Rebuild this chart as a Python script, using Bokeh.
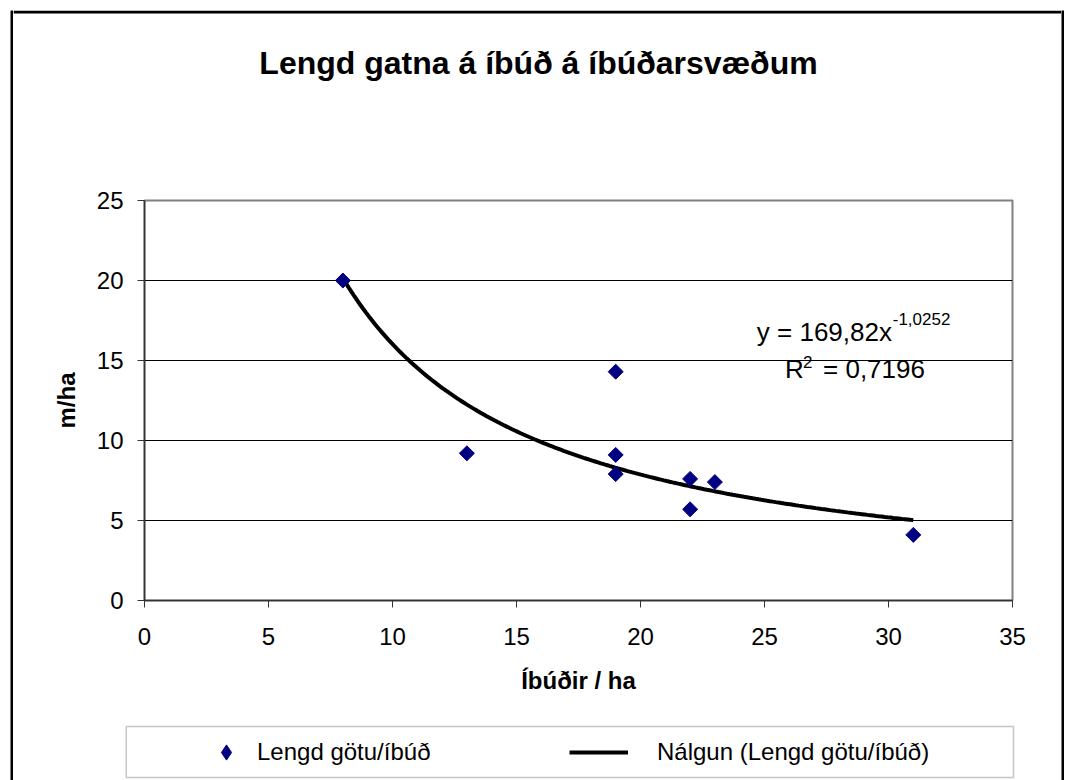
import numpy as np
from bokeh.plotting import figure
from bokeh.layouts import row, column
from bokeh.models import (Range1d, FixedTicker, Label, BoxAnnotation, Legend,
                          LegendItem, ColumnDataSource)
from bokeh.embed import file_html
from bokeh.resources import INLINE

# ---------------- data ----------------
title_text = "Lengd gatna á íbúð á íbúðarsvæðum"
x_label = "Íbúðir / ha"
y_label = "m/ha"
series_label = "Lengd götu/íbúð"
trend_label = "Nálgun (Lengd götu/íbúð)"

dwellings_per_ha = [8, 13, 19, 19, 19, 22, 22, 23, 31]
street_m_per_ha = [20.0, 9.2, 14.3, 9.1, 7.9, 7.6, 5.7, 7.4, 4.1]

# power trendline as printed on the chart: y = a * x^b
trend_a = 169.82
trend_b = -1.0252
trend_r2 = 0.7196

x_ticks = [0, 5, 10, 15, 20, 25, 30, 35]
y_ticks = [0, 5, 10, 15, 20, 25]

FONT = "Liberation Sans"
NAVY = "#000080"


def comma(v, nd):
    return f"{v:.{nd}f}".replace(".", ",")


def blank_fig(w, h, fill="white"):
    f = figure(width=w, height=h, output_backend="svg", toolbar_location=None,
               min_border=0, x_axis_location=None, y_axis_location=None,
               x_range=Range1d(0, 1), y_range=Range1d(0, 1),
               background_fill_color=fill, border_fill_color=fill,
               outline_line_color=None, frame_align=False)
    f.grid.visible = False
    return f


W = 1048

# power trendline points
tx = np.linspace(min(dwellings_per_ha), max(dwellings_per_ha), 200)
ty = trend_a * tx ** trend_b

# ---------------- title strip (with top edge of outer frame) ----------------
title_fig = blank_fig(W, 110)
title_fig.add_layout(BoxAnnotation(left=0, right=W, top=110, bottom=107,
                                   left_units="screen", right_units="screen",
                                   top_units="screen", bottom_units="screen",
                                   fill_color="black", fill_alpha=1, line_color=None))
title_fig.add_layout(Label(x=525, y=58, x_units="screen", y_units="screen",
                           text=title_text, text_align="center", text_baseline="middle",
                           text_font=FONT, text_font_size="32px", text_font_style="bold",
                           text_color="black"))

# ---------------- main chart ----------------
p = figure(width=W, height=590,
           x_range=Range1d(0, 35), y_range=Range1d(0, 25),
           output_backend="svg", toolbar_location=None,
           min_border_left=131, min_border_right=49,
           min_border_top=80, min_border_bottom=110,
           background_fill_color="white", border_fill_color="white",
           outline_line_color="#808080", outline_line_width=2, frame_align=False)

p.xgrid.visible = False
p.ygrid.ticker = FixedTicker(ticks=[5, 10, 15, 20])
p.ygrid.grid_line_color = "black"
p.ygrid.grid_line_width = 1

p.xaxis.ticker = FixedTicker(ticks=x_ticks)
p.yaxis.ticker = FixedTicker(ticks=y_ticks)
p.xaxis.axis_label = x_label
p.yaxis.axis_label = y_label
for ax in (p.xaxis[0], p.yaxis[0]):
    ax.major_tick_in = 0
    ax.major_tick_out = 7
    ax.minor_tick_line_color = None
    ax.axis_line_color = "#333333"
    ax.axis_line_width = 1.5
    ax.major_tick_line_color = "#333333"
    ax.major_label_text_font = FONT
    ax.major_label_text_font_size = "24px"
    ax.major_label_text_color = "black"
    ax.axis_label_text_font = FONT
    ax.axis_label_text_font_size = "24px"
    ax.axis_label_text_font_style = "bold"
    ax.axis_label_text_color = "black"
p.xaxis.major_label_standoff = 20
p.yaxis.major_label_standoff = 14
p.xaxis.axis_label_standoff = 19
p.yaxis.axis_label_standoff = 14

# trendline
p.line(tx, ty, line_color="black", line_width=4)

# points (diamonds = squares rotated 45 degrees)
src = ColumnDataSource(dict(x=dwellings_per_ha, y=street_m_per_ha))
p.scatter("x", "y", source=src, marker="square", size=10.6, angle=np.pi / 4,
          fill_color=NAVY, line_color=NAVY)

# equation and R^2
EQ = "26px"
SUP = "17px"
for (lx, ly, txt, fs) in [
        (24.69, 16.77, f"y = {comma(trend_a, 2)}x", EQ),
        (30.17, 17.6, comma(trend_b, 4), SUP),
        (25.83, 14.48, "R", EQ),
        (26.55, 14.9, "2", SUP),
        (27.36, 14.48, f"= {comma(trend_r2, 4)}", EQ)]:
    p.add_layout(Label(x=lx, y=ly, text=txt, text_font=FONT, text_font_size=fs,
                       text_color="black", text_baseline="alphabetic"))

# ---------------- legend strip ----------------
leg_fig = blank_fig(W, 70)
leg_fig.add_layout(BoxAnnotation(left=112.7, right=1000, top=54, bottom=3,
                                 left_units="screen", right_units="screen",
                                 top_units="screen", bottom_units="screen",
                                 fill_color=None, line_color="#404040", line_width=1.5))
# swatch renderers (their data fall outside this strip's 0..1 ranges, so only the legend shows them)
sw_pts = leg_fig.scatter(x=dwellings_per_ha, y=street_m_per_ha, marker="diamond",
                         fill_color=NAVY, line_color=NAVY)
sw_line = leg_fig.line(x=tx, y=ty, line_color="black", line_width=4)

common = dict(orientation="horizontal", padding=0, spacing=0, margin=0,
              glyph_height=38, border_line_color=None, background_fill_alpha=0,
              label_text_font=FONT, label_text_font_size="24px",
              label_text_color="black")
leg1 = Legend(items=[LegendItem(label=series_label, renderers=[sw_pts])],
              location=(194, 9), glyph_width=38, label_standoff=12, **common)
leg2 = Legend(items=[LegendItem(label=trend_label, renderers=[sw_line])],
              location=(556, 9), glyph_width=59, label_standoff=29, **common)
leg_fig.add_layout(leg1)
leg_fig.add_layout(leg2)

# ---------------- outer black frame (left / right edges) ----------------
left_bar = blank_fig(3, 770, fill="black")
right_bar = blank_fig(3, 770, fill="black")

layout = row(left_bar, column(title_fig, p, leg_fig), right_bar)
layout.margin = (10, 0, 0, 10)

open("out.html", "w").write(file_html(layout, INLINE))
